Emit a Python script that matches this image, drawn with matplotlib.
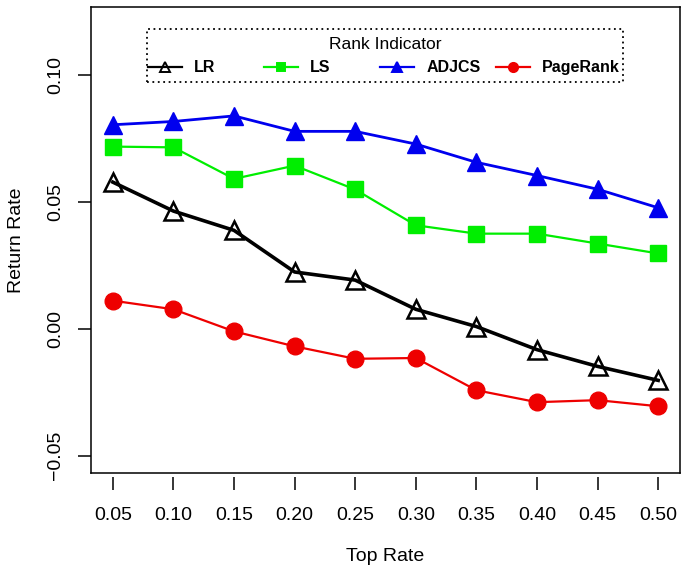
import matplotlib
matplotlib.use("Agg")
import matplotlib.pyplot as plt
from matplotlib.patches import Rectangle
from matplotlib.lines import Line2D

plt.rcParams['font.family'] = ['Liberation Sans', 'DejaVu Sans']

# data
top_rate = [0.05, 0.10, 0.15, 0.20, 0.25, 0.30, 0.35, 0.40, 0.45, 0.50]
lr = [0.0578, 0.0464, 0.0388, 0.0224, 0.0192, 0.0077, 0.0009, -0.0082, -0.0148, -0.0203]
ls = [0.0718, 0.0715, 0.0591, 0.0643, 0.0549, 0.0408, 0.0375, 0.0375, 0.0336, 0.0297]
adjcs = [0.0804, 0.0817, 0.0839, 0.0778, 0.0778, 0.0728, 0.0656, 0.0604, 0.0550, 0.0477]
pagerank = [0.0111, 0.0077, -0.0010, -0.0069, -0.0118, -0.0115, -0.0242, -0.0289, -0.0281, -0.0305]
y_ticks = [-0.05, 0.00, 0.05, 0.10]
x_labels = ['0.05', '0.10', '0.15', '0.20', '0.25', '0.30', '0.35', '0.40', '0.45', '0.50']
series_names = ['LR', 'LS', 'ADJCS', 'PageRank']

fig = plt.figure(figsize=(6.85, 5.69), dpi=100)
ax = fig.add_axes([91/685, 96/569, 589/685, 466/569])

styles = [
    dict(color='black', lw=2.6, marker='^', ms=13, mfc='none', mew=1.8),
    dict(color='#00ee00', lw=1.6, marker='s', ms=11, mec='#00ee00'),
    dict(color='#0000ee', lw=2.0, marker='^', ms=13, mec='#0000ee'),
    dict(color='#ee0000', lw=1.6, marker='o', ms=12, mec='#ee0000'),
]
for ys, st in zip([lr, ls, adjcs, pagerank], styles):
    ax.plot(top_rate, ys, **st)

# R style limits (4% padding)
ax.set_xlim(0.05 - 0.018, 0.50 + 0.018)
ax.set_ylim(-0.05 - 0.0068, 0.12 + 0.0068)

ax.set_xticks(top_rate)
ax.set_xticklabels(x_labels)
ax.set_yticks(y_ticks)
ax.set_yticklabels(['\u22120.05', '0.00', '0.05', '0.10'], rotation=90, va='center')

ax.tick_params(axis='both', direction='out', length=9.5, width=1.1, labelsize=14)
ax.tick_params(axis='x', pad=12)
ax.tick_params(axis='y', pad=10)

for s in ax.spines.values():
    s.set_linewidth(1.1)
# small gap between box and x ticks
ax.spines['bottom'].set_position(('outward', 3))
ax.spines['bottom'].set_visible(False)
ax.plot([0, 1], [0, 0], transform=ax.transAxes, color='black', lw=1.1, clip_on=False)

ax.set_xlabel('Top Rate', fontsize=14, labelpad=17)
ax.set_ylabel('Return Rate', fontsize=14, labelpad=16)

# legend drawn in R style: dotted box, evenly spaced columns
box = Rectangle((0.095, 0.838), 0.809, 0.115, transform=ax.transAxes, fill=False,
                ls=(0, (1, 2)), lw=1.3, color='black', zorder=5)
ax.add_patch(box)
ax.text(0.5, 0.92, 'Rank Indicator', transform=ax.transAxes, ha='center', va='center',
        fontsize=12.5)
for i, (name, st) in enumerate(zip(series_names, styles)):
    x0 = 0.097 + i * 0.197
    h = Line2D([x0, x0 + 0.058], [0.871, 0.871], transform=ax.transAxes,
               color=st['color'], lw=1.6, clip_on=False)
    ax.add_line(h)
    m = Line2D([x0 + 0.029], [0.871], transform=ax.transAxes, color=st['color'],
               marker=st['marker'], ms=st['ms'] * 0.55, mfc=st.get('mfc', st['color']),
               mec=st['color'], mew=1.4, ls='none')
    ax.add_line(m)
    ax.text(x0 + 0.078, 0.871, name, transform=ax.transAxes, ha='left', va='center',
            fontsize=11.5, fontweight='bold')

fig.savefig('out.png', dpi=100)
